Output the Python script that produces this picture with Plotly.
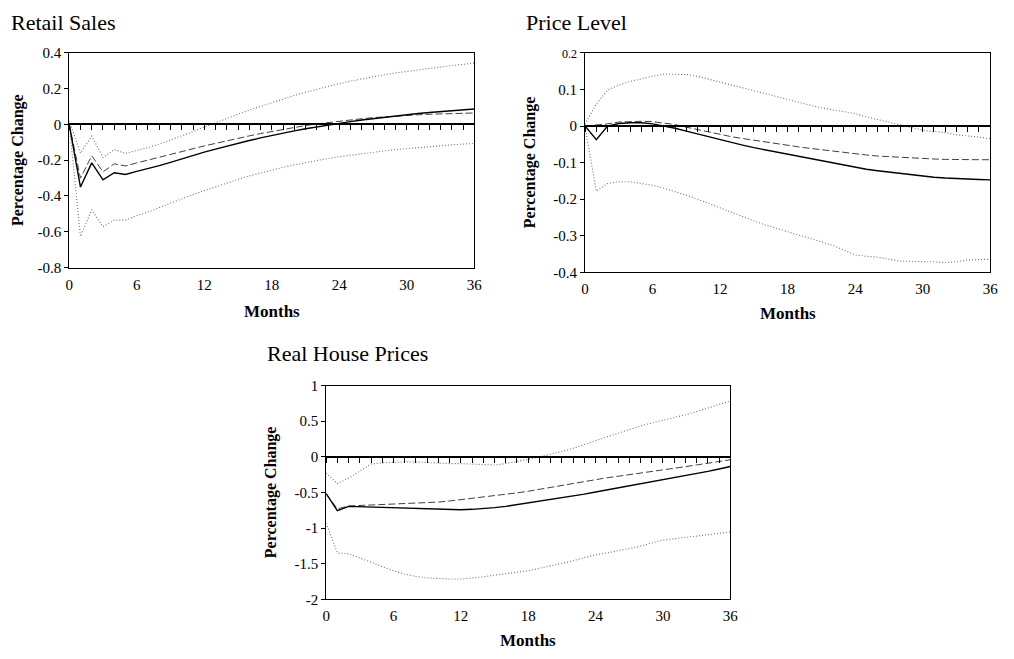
import plotly.graph_objects as go

W, H = 1014, 659
months = list(range(37))

# ---------------- Retail Sales ----------------
retail_solid = [0, -0.35, -0.215, -0.31, -0.27, -0.28, -0.262, -0.247, -0.230, -0.212, -0.192, -0.173,
                -0.155, -0.138, -0.121, -0.105, -0.090, -0.075, -0.061, -0.048, -0.036, -0.024, -0.013,
                -0.003, 0.007, 0.016, 0.025, 0.033, 0.041, 0.048, 0.055, 0.061, 0.067, 0.072, 0.077, 0.082, 0.086]
retail_dashed = [0, -0.30, -0.175, -0.265, -0.22, -0.232, -0.215, -0.200, -0.185, -0.168, -0.152, -0.136,
                 -0.120, -0.105, -0.091, -0.077, -0.064, -0.051, -0.039, -0.027, -0.016, -0.006, 0.003,
                 0.011, 0.019, 0.026, 0.032, 0.038, 0.043, 0.047, 0.051, 0.054, 0.057, 0.059, 0.061, 0.063, 0.064]
retail_upper = [0.02, -0.16, -0.065, -0.185, -0.14, -0.162, -0.145, -0.13, -0.11, -0.088, -0.064, -0.04,
                -0.015, 0.01, 0.034, 0.057, 0.08, 0.101, 0.122, 0.142, 0.162, 0.18, 0.197, 0.213, 0.228,
                0.242, 0.255, 0.267, 0.278, 0.288, 0.297, 0.306, 0.314, 0.322, 0.329, 0.336, 0.343]
retail_lower = [0.0, -0.626, -0.477, -0.572, -0.535, -0.535, -0.51, -0.49, -0.465, -0.44, -0.415, -0.392,
                -0.37, -0.348, -0.327, -0.307, -0.288, -0.271, -0.255, -0.24, -0.226, -0.213, -0.201,
                -0.19, -0.18, -0.171, -0.163, -0.155, -0.148, -0.141, -0.135, -0.129, -0.124, -0.119,
                -0.114, -0.11, -0.106]

# ---------------- Price Level ----------------
price_solid = [0, -0.037, 0.0, 0.007, 0.009, 0.009, 0.006, 0.001, -0.006, -0.014, -0.022, -0.030, -0.038,
               -0.045, -0.052, -0.059, -0.065, -0.071, -0.077, -0.084, -0.090, -0.096, -0.102, -0.108,
               -0.113, -0.118, -0.122, -0.126, -0.130, -0.134, -0.137, -0.140, -0.142, -0.144, -0.145,
               -0.146, -0.147]
price_dashed = [0, 0.002, 0.006, 0.011, 0.013, 0.013, 0.012, 0.009, 0.004, -0.003, -0.010, -0.017, -0.023,
                -0.029, -0.034, -0.039, -0.044, -0.049, -0.053, -0.057, -0.061, -0.065, -0.069, -0.073,
                -0.076, -0.079, -0.082, -0.084, -0.086, -0.088, -0.089, -0.090, -0.091, -0.092, -0.092,
                -0.092, -0.092]
price_upper = [0.005, 0.06, 0.098, 0.112, 0.122, 0.13, 0.136, 0.142, 0.142, 0.141, 0.136, 0.128, 0.119,
               0.112, 0.104, 0.096, 0.088, 0.08, 0.073, 0.065, 0.057, 0.05, 0.045, 0.04, 0.034, 0.025,
               0.018, 0.012, 0.004, -0.003, -0.011, -0.015, -0.018, -0.024, -0.026, -0.03, -0.035]
price_lower = [-0.003, -0.178, -0.157, -0.152, -0.152, -0.156, -0.162, -0.17, -0.179, -0.189, -0.2, -0.212,
               -0.225, -0.237, -0.248, -0.259, -0.27, -0.28, -0.289, -0.298, -0.307, -0.316, -0.326,
               -0.339, -0.352, -0.356, -0.358, -0.364, -0.369, -0.37, -0.37, -0.371, -0.373, -0.371,
               -0.366, -0.366, -0.364]

# ---------------- Real House Prices ----------------
house_solid = [-0.515, -0.757, -0.695, -0.7, -0.703, -0.706, -0.71, -0.717, -0.724, -0.731, -0.737, -0.741,
               -0.742, -0.737, -0.727, -0.713, -0.695, -0.672, -0.647, -0.625, -0.603, -0.58, -0.553,
               -0.524, -0.494, -0.466, -0.437, -0.408, -0.38, -0.352, -0.324, -0.294, -0.265, -0.235,
               -0.205, -0.17, -0.135]
house_dashed = [-0.52, -0.73, -0.69, -0.683, -0.676, -0.67, -0.665, -0.658, -0.652, -0.644, -0.635, -0.62,
                -0.602, -0.585, -0.567, -0.548, -0.528, -0.506, -0.483, -0.455, -0.427, -0.399, -0.371,
                -0.343, -0.315, -0.294, -0.273, -0.252, -0.23, -0.209, -0.187, -0.163, -0.138, -0.114,
                -0.09, -0.065, -0.041]
house_upper = [-0.23, -0.375, -0.3, -0.2, -0.1, -0.085, -0.075, -0.07, -0.072, -0.08, -0.09, -0.095, -0.095,
               -0.1, -0.108, -0.115, -0.095, -0.07, -0.035, 0.0, 0.035, 0.075, 0.12, 0.175, 0.235, 0.28,
               0.33, 0.385, 0.435, 0.475, 0.51, 0.55, 0.59, 0.635, 0.685, 0.735, 0.785]
house_lower = [-0.93, -1.35, -1.36, -1.42, -1.49, -1.55, -1.6, -1.645, -1.68, -1.7, -1.71, -1.715, -1.715,
               -1.705, -1.685, -1.66, -1.64, -1.625, -1.6, -1.565, -1.53, -1.5, -1.46, -1.415, -1.375,
               -1.35, -1.32, -1.29, -1.255, -1.21, -1.17, -1.15, -1.13, -1.115, -1.09, -1.07, -1.055]

x_tickvals = [0, 6, 12, 18, 24, 30, 36]
x_ticktext = ["0", "6", "12", "18", "24", "30", "36"]

retail_yvals = [0.4, 0.2, 0, -0.2, -0.4, -0.6, -0.8]
retail_ytext = ["0.4", "0.2", "0", "-0.2", "-0.4", "-0.6", "-0.8"]
price_yvals = [0.2, 0.1, 0, -0.1, -0.2, -0.3, -0.4]
price_ytext = ["<span style='font-size:12px'>0.2</span>", "0.1", "0", "-0.1", "-0.2", "-0.3", "-0.4"]
house_yvals = [1, 0.5, 0, -0.5, -1, -1.5, -2]
house_ytext = ["1", "0.5", "0", "-0.5", "-1", "-1.5", "-2"]

panels = [
    dict(title="Retail Sales", solid=retail_solid, dashed=retail_dashed, upper=retail_upper,
         lower=retail_lower, yr=[-0.8, 0.4], yv=retail_yvals, yt=retail_ytext,
         box=(66, 476, 46, 266), title_xy=(5, 15), ytitle_x=14, months_y=311),
    dict(title="Price Level", solid=price_solid, dashed=price_dashed, upper=price_upper,
         lower=price_lower, yr=[-0.4, 0.2], yv=price_yvals, yt=price_ytext,
         box=(588, 998, 46, 271), title_xy=(526, 15), ytitle_x=532, months_y=313),
    dict(title="Real House Prices", solid=house_solid, dashed=house_dashed, upper=house_upper,
         lower=house_lower, yr=[-2, 1], yv=house_yvals, yt=house_ytext,
         box=(326, 735, 387, 606), title_xy=(264, 354), ytitle_x=271, months_y=648),
]

SERIF = "Liberation Serif, Times New Roman, serif"
fig = go.Figure()
layout = dict(width=W, height=H, margin=dict(l=0, r=0, t=0, b=0), showlegend=False,
              paper_bgcolor="white", plot_bgcolor="white",
              font=dict(family=SERIF, size=14, color="black"))
annotations = []


def px(x):
    return x / W


def py(y):
    return 1 - y / H


for i, p in enumerate(panels):
    n = i + 1
    xa = "x" if n == 1 else f"x{n}"
    ya = "y" if n == 1 else f"y{n}"
    x0, x1, y0, y1 = p["box"]
    xdom = [px(x0), px(x1)]
    ydom = [py(y1), py(y0)]
    layout[f"xaxis{'' if n == 1 else n}"] = dict(
        domain=xdom, range=[0, 36], anchor=ya, showgrid=False, zeroline=False,
        showline=True, mirror=True, linecolor="black", linewidth=1,
        tickvals=x_tickvals, ticktext=x_ticktext, ticks="outside", ticklen=3,
        tickcolor="rgba(0,0,0,0)", tickfont=dict(family=SERIF, size=15))
    layout[f"yaxis{'' if n == 1 else n}"] = dict(
        domain=ydom, range=p["yr"], anchor=xa, showgrid=False, zeroline=False,
        showline=True, mirror=True, linecolor="black", linewidth=1,
        tickvals=p["yv"], ticktext=p["yt"], ticks="outside", ticklen=4, tickcolor="black",
        tickfont=dict(family=SERIF, size=15))
    # zero line with monthly tick marks (free overlay axis placed at y = 0)
    zn = n + 3
    ymin, ymax = p["yr"]
    zpos = ydom[0] + (0 - ymin) / (ymax - ymin) * (ydom[1] - ydom[0])
    layout[f"xaxis{zn}"] = dict(
        domain=xdom, range=[0, 36], overlaying=xa, anchor="free", position=zpos, side="bottom",
        showgrid=False, zeroline=False, showline=True, linecolor="black", linewidth=1.5,
        dtick=1, tick0=0, ticks="outside", ticklen=5, tickcolor="black", tickwidth=1,
        showticklabels=False)
    fig.add_trace(go.Scatter(x=[0, 36], y=[0, 0], mode="lines", xaxis=f"x{zn}", yaxis=ya,
                             line=dict(color="rgba(0,0,0,0)", width=0), hoverinfo="skip"))

    fig.add_trace(go.Scatter(x=months, y=p["upper"], mode="lines", xaxis=xa, yaxis=ya,
                             line=dict(color="#707070", width=1.1, dash="1px,2px")))
    fig.add_trace(go.Scatter(x=months, y=p["lower"], mode="lines", xaxis=xa, yaxis=ya,
                             line=dict(color="#707070", width=1.1, dash="1px,2px")))
    fig.add_trace(go.Scatter(x=months, y=p["dashed"], mode="lines", xaxis=xa, yaxis=ya,
                             line=dict(color="#404040", width=1, dash="7px,3px")))
    fig.add_trace(go.Scatter(x=months, y=p["solid"], mode="lines", xaxis=xa, yaxis=ya,
                             line=dict(color="black", width=1.4)))

    annotations.append(dict(text=p["title"], x=px(p["title_xy"][0]), y=py(p["title_xy"][1]),
                            xref="paper", yref="paper", xanchor="left", yanchor="middle",
                            showarrow=False, font=dict(family=SERIF, size=22)))
    annotations.append(dict(text="<b>Percentage Change</b>", x=px(p["ytitle_x"]),
                            y=py((y0 + y1) / 2), xref="paper", yref="paper", textangle=-90,
                            xanchor="center", yanchor="middle", showarrow=False,
                            font=dict(family=SERIF, size=16)))
    annotations.append(dict(text="<b>Months</b>", x=px((x0 + x1) / 2), y=py(p["months_y"]),
                            xref="paper", yref="paper", xanchor="center", yanchor="middle",
                            showarrow=False, font=dict(family=SERIF, size=17)))

layout["annotations"] = annotations
fig.update_layout(**layout)
fig.write_html("out.html")
